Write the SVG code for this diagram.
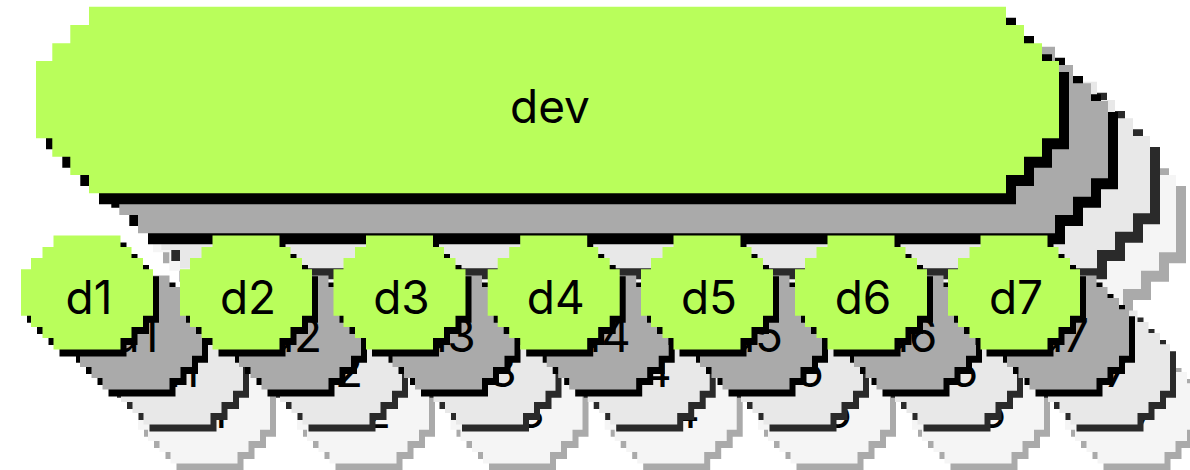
<svg xmlns="http://www.w3.org/2000/svg" xmlns:xlink="http://www.w3.org/1999/xlink" width="1190" height="470" viewBox="0 0 1190 470">
<style>
.f1{fill:#b9fe5b}
.f2{fill:#aaaaaa}
.f3{fill:#e8e8e8}
.f4{fill:#f5f5f5}
.s1,.s2{fill:#000000}
.s3{fill:#2a2a2a}
.s4{fill:#aaaaaa}
text{font-family:Inter,"Liberation Sans",sans-serif;font-size:46px;fill:#000000;text-anchor:middle}
</style>
<defs>
<path id="devshape" d="M89,6.7 H1006 V25 H1024 V43.3 H1042 V61 H1059 V138.3 H1042 V156.7 H1024 V175 H1006 V193.3 H89 V175 H70.3 V156.7 H52.3 V138.3 H36 V61 H52.3 V43.3 H70.3 V25 H89 Z"/>
<path id="dshape" d="M-33.5,-57 H33.5 V-45.5 H44.5 V-34.5 H56 V-23.3 H66 V23.3 H56 V34.5 H44.5 V45.5 H33.5 V57 H-33.5 V45.5 H-44.5 V34.5 H-56 V23.3 H-66 V-23.3 H-56 V-34.5 H-44.5 V-45.5 H-33.5 Z"/>
<g id="dstack">
<g transform="translate(117,114)"><use xlink:href="#dshape" class="s4" x="6" y="7"/><use xlink:href="#dshape" class="f4"/></g>
<g transform="translate(91,75)"><use xlink:href="#dshape" class="s3" x="6" y="7"/><use xlink:href="#dshape" class="f3"/></g>
<g transform="translate(49,40)"><use xlink:href="#dshape" class="s2" x="6" y="7"/><use xlink:href="#dshape" class="f2"/></g>
</g>
</defs>
<g id="connectors"></g>
<g id="dev">
<g transform="translate(117,114)"><use xlink:href="#devshape" class="s4" x="10" y="11"/><use xlink:href="#devshape" class="f4"/></g>
<g transform="translate(91,75)"><use xlink:href="#devshape" class="s3" x="10" y="11"/><use xlink:href="#devshape" class="f3"/></g>
<g transform="translate(49,40)"><use xlink:href="#devshape" class="s2" x="10" y="11"/><use xlink:href="#devshape" class="f2"/></g>
<use xlink:href="#devshape" class="s1" x="10" y="11"/>
<use xlink:href="#devshape" class="f1"/>
<text x="550" y="123">dev</text>
</g>
<g id="d1" transform="translate(87,292.5)">
<g transform="translate(117,114)"><use xlink:href="#dshape" class="s4" x="6" y="7"/><use xlink:href="#dshape" class="f4"/><text x="0" y="21">d1</text></g>
<g transform="translate(90,75)"><use xlink:href="#dshape" class="s3" x="6" y="7"/><use xlink:href="#dshape" class="f3"/><text x="-1" y="19">d1</text></g>
<g transform="translate(49,40)"><use xlink:href="#dshape" class="s2" x="6" y="7"/><use xlink:href="#dshape" class="f2"/><text x="-1" y="19">d1</text></g>
<use xlink:href="#dshape" class="s1" x="6" y="7"/><use xlink:href="#dshape" class="f1"/><text x="2" y="21">d1</text>
</g>
<g id="d2" transform="translate(246,292.5)">
<g transform="translate(117,114)"><use xlink:href="#dshape" class="s4" x="6" y="7"/><use xlink:href="#dshape" class="f4"/><text x="0" y="21">d2</text></g>
<g transform="translate(90,75)"><use xlink:href="#dshape" class="s3" x="6" y="7"/><use xlink:href="#dshape" class="f3"/><text x="-1" y="19">d2</text></g>
<g transform="translate(49,40)"><use xlink:href="#dshape" class="s2" x="6" y="7"/><use xlink:href="#dshape" class="f2"/><text x="-1" y="19">d2</text></g>
<use xlink:href="#dshape" class="s1" x="6" y="7"/><use xlink:href="#dshape" class="f1"/><text x="2" y="21">d2</text>
</g>
<g id="d3" transform="translate(399.5,292.5)">
<g transform="translate(117,114)"><use xlink:href="#dshape" class="s4" x="6" y="7"/><use xlink:href="#dshape" class="f4"/><text x="0" y="21">d3</text></g>
<g transform="translate(90,75)"><use xlink:href="#dshape" class="s3" x="6" y="7"/><use xlink:href="#dshape" class="f3"/><text x="-1" y="19">d3</text></g>
<g transform="translate(49,40)"><use xlink:href="#dshape" class="s2" x="6" y="7"/><use xlink:href="#dshape" class="f2"/><text x="-1" y="19">d3</text></g>
<use xlink:href="#dshape" class="s1" x="6" y="7"/><use xlink:href="#dshape" class="f1"/><text x="2" y="21">d3</text>
</g>
<g id="d4" transform="translate(553.7,292.5)">
<g transform="translate(117,114)"><use xlink:href="#dshape" class="s4" x="6" y="7"/><use xlink:href="#dshape" class="f4"/><text x="0" y="21">d4</text></g>
<g transform="translate(90,75)"><use xlink:href="#dshape" class="s3" x="6" y="7"/><use xlink:href="#dshape" class="f3"/><text x="-1" y="19">d4</text></g>
<g transform="translate(49,40)"><use xlink:href="#dshape" class="s2" x="6" y="7"/><use xlink:href="#dshape" class="f2"/><text x="-1" y="19">d4</text></g>
<use xlink:href="#dshape" class="s1" x="6" y="7"/><use xlink:href="#dshape" class="f1"/><text x="2" y="21">d4</text>
</g>
<g id="d5" transform="translate(707,292.5)">
<g transform="translate(117,114)"><use xlink:href="#dshape" class="s4" x="6" y="7"/><use xlink:href="#dshape" class="f4"/><text x="0" y="21">d5</text></g>
<g transform="translate(90,75)"><use xlink:href="#dshape" class="s3" x="6" y="7"/><use xlink:href="#dshape" class="f3"/><text x="-1" y="19">d5</text></g>
<g transform="translate(49,40)"><use xlink:href="#dshape" class="s2" x="6" y="7"/><use xlink:href="#dshape" class="f2"/><text x="-1" y="19">d5</text></g>
<use xlink:href="#dshape" class="s1" x="6" y="7"/><use xlink:href="#dshape" class="f1"/><text x="2" y="21">d5</text>
</g>
<g id="d6" transform="translate(861,292.5)">
<g transform="translate(117,114)"><use xlink:href="#dshape" class="s4" x="6" y="7"/><use xlink:href="#dshape" class="f4"/><text x="0" y="21">d6</text></g>
<g transform="translate(90,75)"><use xlink:href="#dshape" class="s3" x="6" y="7"/><use xlink:href="#dshape" class="f3"/><text x="-1" y="19">d6</text></g>
<g transform="translate(49,40)"><use xlink:href="#dshape" class="s2" x="6" y="7"/><use xlink:href="#dshape" class="f2"/><text x="-1" y="19">d6</text></g>
<use xlink:href="#dshape" class="s1" x="6" y="7"/><use xlink:href="#dshape" class="f1"/><text x="2" y="21">d6</text>
</g>
<g id="d7" transform="translate(1014,292.5)">
<g transform="translate(117,114)"><use xlink:href="#dshape" class="s4" x="6" y="7"/><use xlink:href="#dshape" class="f4"/><text x="0" y="21">d7</text></g>
<g transform="translate(90,75)"><use xlink:href="#dshape" class="s3" x="6" y="7"/><use xlink:href="#dshape" class="f3"/><text x="-1" y="19">d7</text></g>
<g transform="translate(49,40)"><use xlink:href="#dshape" class="s2" x="6" y="7"/><use xlink:href="#dshape" class="f2"/><text x="-1" y="19">d7</text></g>
<use xlink:href="#dshape" class="s1" x="6" y="7"/><use xlink:href="#dshape" class="f1"/><text x="2" y="21">d7</text>
</g>
</svg>
